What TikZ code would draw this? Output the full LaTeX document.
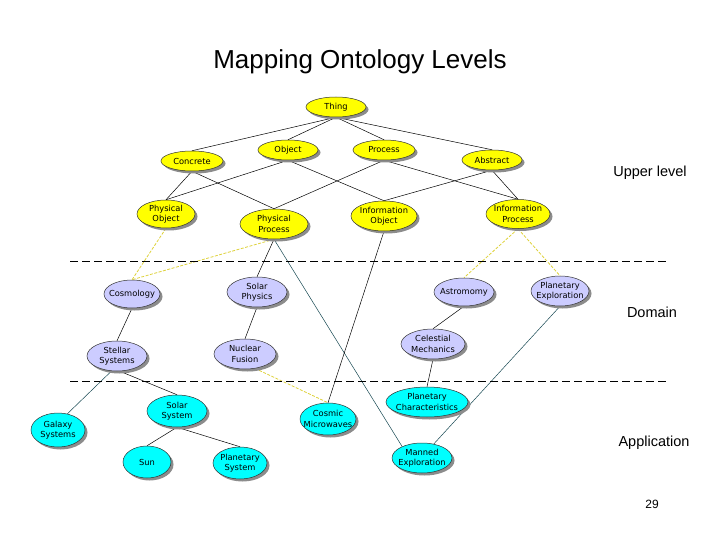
\documentclass[tikz,border=0pt]{standalone}
\usepackage{fontspec}
\setmainfont{Liberation Sans}
\newfontfamily\nodefont{DejaVu Sans}
\usetikzlibrary{shapes.geometric,shadows,backgrounds}
\definecolor{yel}{RGB}{255,255,0}
\definecolor{lav}{RGB}{204,204,255}
\definecolor{cyn}{RGB}{0,255,255}
\definecolor{ydsh}{RGB}{222,210,60}
\definecolor{tealk}{RGB}{20,70,80}
\begin{document}
\begin{tikzpicture}[x=1pt,y=-1pt,
  ell/.style={ellipse, draw=black!80, line width=0.5pt, inner sep=0pt,
    drop shadow={shadow xshift=2.5pt, shadow yshift=-2.5pt, fill=black!45, opacity=1}},
  lbl/.style={font=\nodefont\fontsize{8.3}{10.5}\selectfont, align=center, inner sep=0pt},
  up/.style={ell, fill=yel},
  dom/.style={ell, fill=lav},
  app/.style={ell, fill=cyn},
  lk/.style={draw=black, line width=0.5pt},
  tk/.style={draw=tealk, line width=0.5pt},
  yd/.style={draw=ydsh, line width=0.8pt, dash pattern=on 3pt off 1.5pt},
  sep/.style={draw=black, line width=0.8pt, dash pattern=on 8pt off 4pt},
  side/.style={font=\fontsize{14.5}{16}\selectfont, inner sep=0pt}
]
\useasboundingbox (0,0) rectangle (720,540);

\node[font=\fontsize{26}{30}\selectfont, inner sep=0pt] (title) at (360,62) {Mapping Ontology Levels};

% separators
\coordinate (s1a) at (70,261); \coordinate (s1b) at (666,261);
\coordinate (s2a) at (70,381); \coordinate (s2b) at (666,381);
\draw[sep] (s1a) -- (s1b);
\draw[sep] (s2a) -- (s2b);

% side labels
\node[side] (upper) at (650,173) {Upper level};
\node[side] (domain) at (652,312) {Domain};
\node[side] (appl) at (654,443) {Application};
\node[font=\fontsize{12}{14}\selectfont, inner sep=0pt] (pg) at (652,504) {29};

% upper level
\node[up, minimum width=60, minimum height=20, label={[lbl]center:Thing}] (thing) at (336,107) {};
\node[up, minimum width=60, minimum height=20, label={[lbl]center:Object}] (object) at (288,150) {};
\node[up, minimum width=62, minimum height=20, label={[lbl]center:Process}] (process) at (384,150) {};
\node[up, minimum width=62, minimum height=20, label={[lbl]center:Concrete}] (concrete) at (192,161) {};
\node[up, minimum width=60, minimum height=20, label={[lbl]center:Abstract}] (abstract) at (492,160) {};
\node[up, minimum width=58, minimum height=28, label={[lbl]center:Physical\\Object}] (po) at (166,214) {};
\node[up, minimum width=68, minimum height=30, label={[lbl]center:Physical\\Process}] (pp) at (274,224) {};
\node[up, minimum width=66, minimum height=30, label={[lbl]center:Information\\Object}] (io) at (384,216) {};
\node[up, minimum width=64, minimum height=29, label={[lbl]center:Information\\Process}] (ip) at (518,214) {};

% domain
\node[dom, minimum width=56, minimum height=28, label={[lbl]center:Cosmology}] (cosmo) at (132,294) {};
\node[dom, minimum width=60, minimum height=30, label={[lbl]center:Solar\\Physics}] (solar) at (257,292) {};
\node[dom, minimum width=60, minimum height=28, label={[lbl]center:Astromomy}] (astro) at (464,292) {};
\node[dom, minimum width=58, minimum height=30, label={[lbl]center:Planetary\\Exploration}] (plex) at (560,291) {};
\node[dom, minimum width=64, minimum height=30, label={[lbl]center:Celestial\\Mechanics}] (celest) at (433,344) {};
\node[dom, minimum width=60, minimum height=30, label={[lbl]center:Stellar\\Systems}] (stellar) at (117,356) {};
\node[dom, minimum width=62, minimum height=30, label={[lbl]center:Nuclear\\Fusion}] (fusion) at (245,354) {};

% application
\node[app, minimum width=82, minimum height=30, label={[lbl]center:Planetary\\Characteristics}] (pchar) at (427,402) {};
\node[app, minimum width=60, minimum height=32, label={[lbl]center:Solar\\System}] (sosys) at (177,411) {};
\node[app, minimum width=54, minimum height=34, label={[lbl]center:Galaxy\\Systems}] (galaxy) at (58,430) {};
\node[app, minimum width=56, minimum height=32, label={[lbl]center:Cosmic\\Microwaves}] (cosmic) at (328,419) {};
\node[app, minimum width=48, minimum height=32, label={[lbl]center:Sun}] (sun) at (147,462) {};
\node[app, minimum width=54, minimum height=32, label={[lbl]center:Planetary\\System}] (plsys) at (240,463) {};
\node[app, minimum width=60, minimum height=30, label={[lbl]center:Manned\\Exploration}] (manned) at (422,458) {};

% connectors (behind nodes)
\begin{scope}[on background layer]
\draw[lk] (thing.south) -- (concrete.north);
\draw[lk] (thing.south) -- (object.north);
\draw[lk] (thing.south) -- (process.north);
\draw[lk] (thing.south) -- (abstract.north);
\draw[lk] (concrete.south) -- (po.north);
\draw[lk] (concrete.south) -- (pp.north);
\draw[lk] (object.south) -- (po.north);
\draw[lk] (object.south) -- (io.north);
\draw[lk] (process.south) -- (pp.north);
\draw[lk] (process.south) -- (ip.north);
\draw[lk] (abstract.south) -- (io.north);
\draw[lk] (abstract.south) -- (ip.north);
\draw[yd] (po.south) -- (cosmo.north);
\draw[yd] (pp.south) -- (cosmo.north);
\draw[lk] (pp.south) -- (solar.north);
\draw[tk] (pp.south) -- (manned.150);
\draw[lk] (io.south) -- (cosmic.north);
\draw[yd] (ip.south) -- (astro.north);
\draw[yd] (ip.south) -- (plex.north);
\draw[lk] (cosmo.south) -- (stellar.north);
\draw[lk] (solar.south) -- (fusion.north);
\draw[lk] (astro.south) -- (celest.north);
\draw[tk] (plex.south) -- (manned.50);
\draw[yd] (fusion.-55) -- (cosmic.north);
\draw[lk] (celest.south) -- (pchar.north);
\draw[tk] (stellar.-110) -- (galaxy.60);
\draw[lk] (stellar.-80) -- (sosys.north);
\draw[lk] (sosys.south) -- (sun.north);
\draw[lk] (sosys.south) -- (plsys.north);
\end{scope}
\end{tikzpicture}
\end{document}
